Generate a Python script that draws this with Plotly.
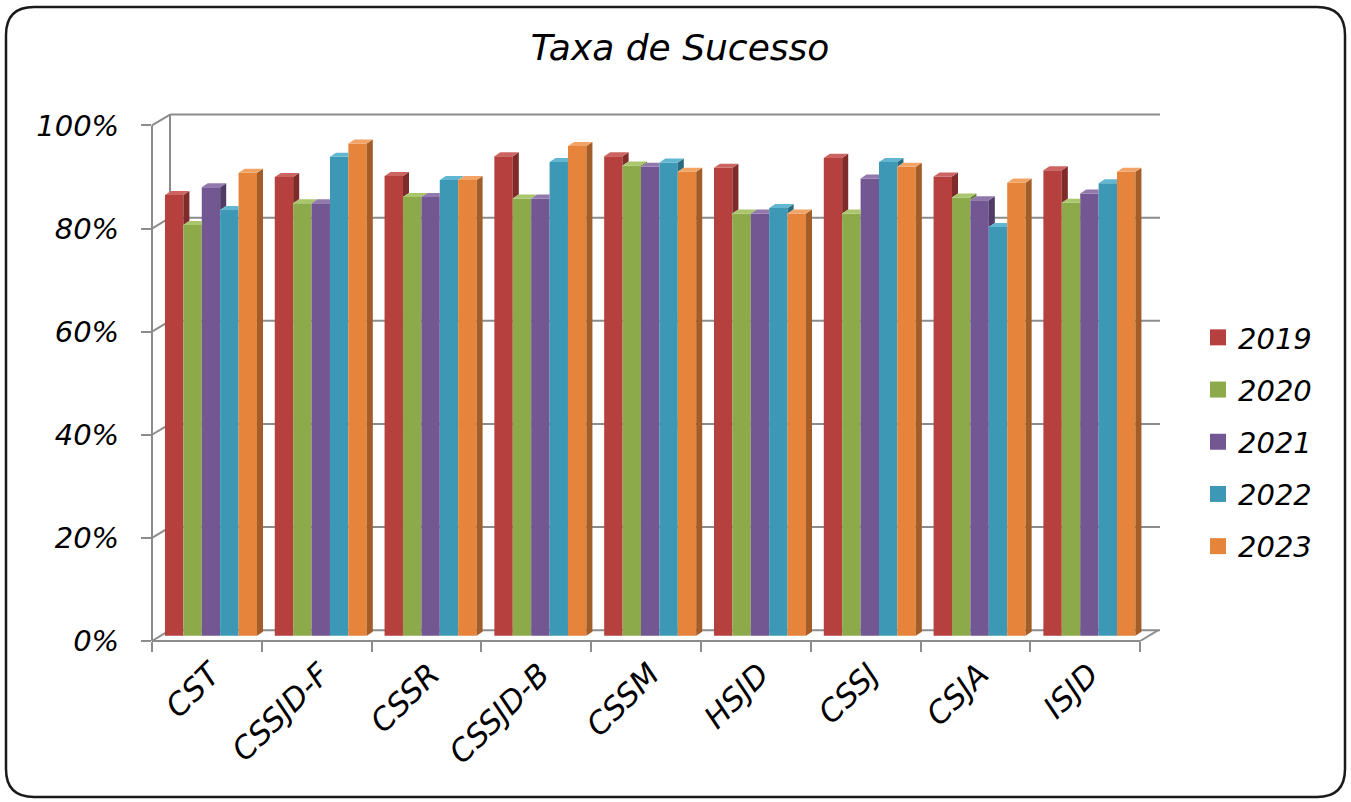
import plotly.graph_objects as go

# ---------------- data ----------------
categories = ["CST", "CSSJD-F", "CSSR", "CSSJD-B", "CSSM", "HSJD", "CSSJ", "CSJA", "ISJD"]
years = ["2019", "2020", "2021", "2022", "2023"]
v2019 = [85.5, 89.0, 89.2, 93.0, 93.0, 90.8, 92.7, 89.1, 90.3]
v2020 = [79.7, 83.9, 85.1, 84.8, 91.2, 81.9, 81.9, 85.0, 84.0]
v2021 = [87.0, 83.9, 85.1, 84.8, 91.0, 81.9, 88.7, 84.5, 85.8]
v2022 = [82.6, 92.9, 88.4, 91.9, 91.8, 83.0, 91.9, 79.3, 87.8]
v2023 = [89.8, 95.5, 88.4, 95.0, 90.0, 81.9, 91.0, 87.9, 90.0]
y_ticks = [0, 20, 40, 60, 80, 100]
y_tick_labels = ["0%", "20%", "40%", "60%", "80%", "100%"]

series = [v2019, v2020, v2021, v2022, v2023]
front_colors = ["#B5403E", "#8DAA4B", "#735793", "#3C98B4", "#E5843A"]
cap_colors = ["#CC6562", "#AAC56B", "#9179AE", "#62B7D0", "#F2A466"]
side_colors = ["#7E2B2A", "#617634", "#4F3C66", "#2A6B7F", "#A35D28"]

# ---------------- geometry (style) ----------------
X0, X1 = -0.5, 8.68
Y0, Y1 = -1.0, 101.6
W = 0.1676        # bar width (category units)
PAD = 0.118       # left padding inside a category
DX, DY = 0.055, 0.78   # bar depth projection
WX = 0.164        # back wall x offset
FRONT_DY, BACK_DY = -1.0, 1.1
FONT = "DejaVu Sans"
GRID = "#8C8C8C"

fig = go.Figure()

n = len(categories)
for i, (yr, vals) in enumerate(zip(years, series)):
    fig.add_trace(go.Bar(
        x=list(range(n)), y=vals, width=W, offset=-0.5 + PAD + i * W,
        marker=dict(color=front_colors[i], line=dict(width=0)),
        name=yr, showlegend=False, hovertemplate="%{y:.1f}%<extra>" + yr + "</extra>",
    ))

# 3D side faces and top caps, built from the values
for i, vals in enumerate(series):
    sx, sy, cx, cy = [], [], [], []
    for g, v in enumerate(vals):
        xl = g - 0.5 + PAD + i * W
        xr = xl + W
        vn = series[i + 1][g] if i < len(series) - 1 else None
        # side
        if vn is None:
            sx += [xr, xr, xr + DX, xr + DX, None]
            sy += [0, v, v + DY, DY, None]
        elif vn < v:
            sx += [xr, xr, xr + DX, xr + DX, None]
            sy += [vn, v, v + DY, vn + DY, None]
        # cap
        if vn is not None and vn > v + DY / 2:
            cx += [xl, xr, xr, xl + DX, None]
            cy += [v, v, v + DY, v + DY, None]
        else:
            cx += [xl, xr, xr + DX, xl + DX, None]
            cy += [v, v, v + DY, v + DY, None]
    fig.add_trace(go.Scatter(x=sx, y=sy, fill="toself", mode="lines", line=dict(width=0),
                             fillcolor=side_colors[i], showlegend=False, hoverinfo="skip"))
    fig.add_trace(go.Scatter(x=cx, y=cy, fill="toself", mode="lines", line=dict(width=0),
                             fillcolor=cap_colors[i], showlegend=False, hoverinfo="skip"))

# legend entries
for i, yr in enumerate(years):
    fig.add_trace(go.Scatter(x=[None], y=[None], mode="markers", name=yr, legendgroup=yr,
                             marker=dict(symbol="square", size=17, color=front_colors[i])))


def fx(x):
    return (x - X0) / (X1 - X0)


def fy(y):
    return (y - Y0) / (Y1 - Y0)


shapes = []


def seg(xa, ya, xb, yb):
    shapes.append(dict(type="line", xref="x domain", yref="y domain",
                       x0=fx(xa), y0=fy(ya), x1=fx(xb), y1=fy(yb),
                       line=dict(color=GRID, width=2), layer="below"))


for t in y_ticks:
    seg(X0 + WX, t + BACK_DY, X1, t + BACK_DY)                 # back wall gridline
    seg(X0, t + FRONT_DY, X0 + WX, t + BACK_DY)                # side wall diagonal
seg(X0, FRONT_DY, X0, 100 + FRONT_DY)                           # front vertical
seg(X0 + WX, BACK_DY, X0 + WX, 100 + BACK_DY)                   # back vertical
seg(X0, FRONT_DY, n - 0.5, FRONT_DY)                            # front floor
seg(n - 0.5, FRONT_DY, n - 0.5 + WX, BACK_DY)                   # floor right diagonal

# rounded outer border (paper px -> paper fraction)
ML, MR, MT, MB = 152, 191, 112, 161
PW, PH = 1351 - ML - MR, 802 - MT - MB


def px(x):
    return (x - ML) / PW


def py(y):
    return (802 - MB - y) / PH


L, R, T, B, r = 6, 1345, 7, 797, 28
path = (f"M {px(L + r)},{py(T)} L {px(R - r)},{py(T)} Q {px(R)},{py(T)} {px(R)},{py(T + r)} "
        f"L {px(R)},{py(B - r)} Q {px(R)},{py(B)} {px(R - r)},{py(B)} "
        f"L {px(L + r)},{py(B)} Q {px(L)},{py(B)} {px(L)},{py(B - r)} "
        f"L {px(L)},{py(T + r)} Q {px(L)},{py(T)} {px(L + r)},{py(T)} Z")
shapes.append(dict(type="path", xref="paper", yref="paper", path=path,
                   line=dict(color="#1a1a1a", width=2.5)))

fig.update_layout(
    width=1351, height=802,
    margin=dict(l=ML, r=MR, t=MT, b=MB),
    paper_bgcolor="white", plot_bgcolor="white",
    barmode="overlay",
    shapes=shapes,
    title=dict(text="Taxa de Sucesso", x=680 / 1351, xref="container", xanchor="center",
               y=1 - 47 / 802, yref="container", yanchor="middle",
               font=dict(family=FONT, size=36, color="black", style="italic")),
    xaxis=dict(range=[X0, X1], tickmode="array", tickvals=list(range(n)), ticktext=categories,
               tickangle=-45, ticks="", showgrid=False, zeroline=False, showline=False,
               ticklabelstandoff=8, ticklabelshift=4,
               tickfont=dict(family=FONT, size=31, color="black", style="italic"),
               minor=dict(tickmode="array", tickvals=[k - 0.5 for k in range(n + 1)],
                          ticks="outside", ticklen=10, tickwidth=2, tickcolor=GRID, showgrid=False),
               fixedrange=True),
    yaxis=dict(range=[Y0, Y1], tickmode="array", tickvals=[t + FRONT_DY for t in y_ticks],
               ticktext=y_tick_labels, ticks="outside", ticklen=10, tickwidth=2, tickcolor=GRID,
               showgrid=False, zeroline=False, showline=False, ticklabelstandoff=16,
               tickfont=dict(family=FONT, size=29, color="black", style="italic"),
               fixedrange=True),
    legend=dict(xref="container", yref="container", x=1198 / 1351, y=1 - 312 / 802,
                xanchor="left", yanchor="top", tracegroupgap=11.5,
                font=dict(family=FONT, size=29, color="black", style="italic"),
                bgcolor="rgba(0,0,0,0)"),
    showlegend=True,
)

fig.write_html("out.html", config={"displayModeBar": False},
               post_script="document.body.style.margin='0';")
